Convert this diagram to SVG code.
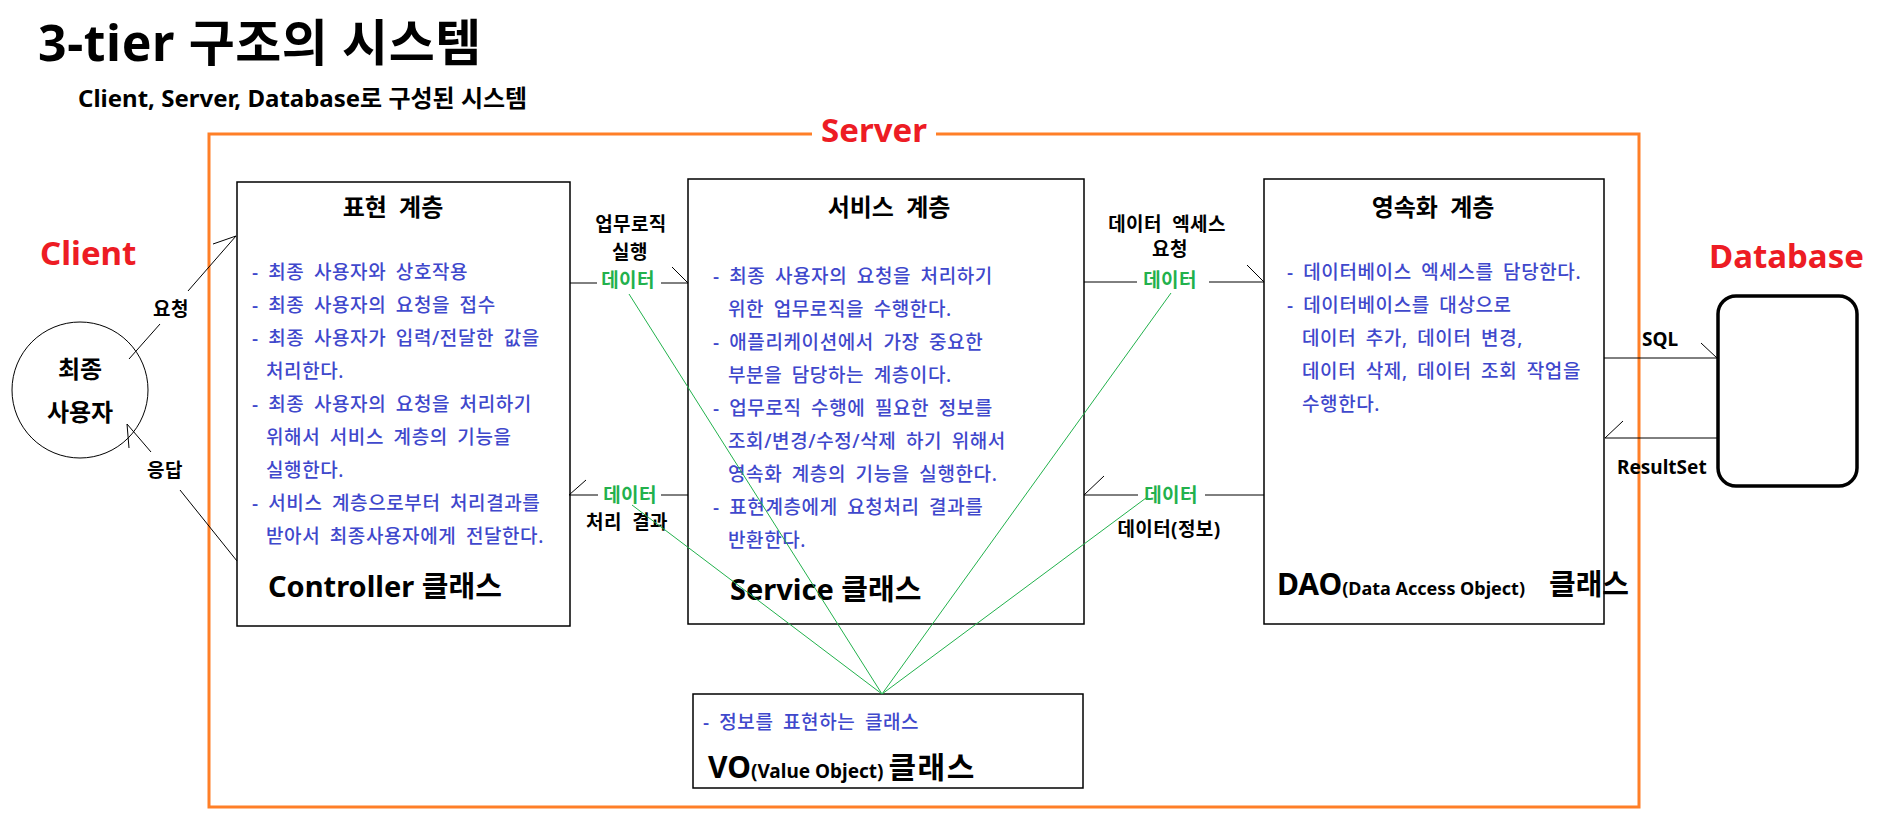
<svg xmlns="http://www.w3.org/2000/svg" width="1887" height="825" viewBox="0 0 1887 825">
<style>
text{font-family:"Noto Sans","Noto Sans CJK KR",sans-serif}
.h1{font-size:50px;font-weight:700;fill:#000;letter-spacing:0.6px}
.h2{font-size:24px;font-weight:700;fill:#000}
.red{font-size:33px;font-weight:700;fill:#ED1C24}
.box{fill:#fff;stroke:#000;stroke-width:1.5}
.lt{font-size:24px;font-weight:700;fill:#000;word-spacing:6px}
.bl{font-size:19px;font-weight:500;fill:#3F48CC;word-spacing:4px;letter-spacing:0.6px}
.lb{font-size:19px;font-weight:700;fill:#000;word-spacing:5px;letter-spacing:0.4px}
.gr{font-size:19px;font-weight:700;fill:#22B14C;letter-spacing:0.4px}
.cls{font-size:29px;font-weight:700;fill:#000}
.big{font-size:30px;font-weight:700;fill:#000}
.sm{font-size:19px;font-weight:700;fill:#000}
.con{fill:none;stroke:#000;stroke-width:1}
.gl{fill:none;stroke:#22B14C;stroke-width:1}
</style>
<rect width="1887" height="825" fill="#fff"/>
<text class="h1" x="38" y="61">3-tier 구조의 시스템</text>
<text class="h2" x="78" y="107">Client, Server, Database로 구성된 시스템</text>

<g id="server">
<path d="M812,134 H209 V807 H1639 V134 H936" fill="none" stroke="#FF7F27" stroke-width="3"/>
<text class="red" x="874" y="142" text-anchor="middle">Server</text>
</g>
<text class="red" x="40" y="265">Client</text>
<text class="red" x="1709" y="268">Database</text>

<g id="user">
<circle cx="80" cy="390" r="68" fill="#fff" stroke="#000" stroke-width="1"/>
<text x="80" y="378" text-anchor="middle" font-size="24" font-weight="700">최종</text>
<text x="80" y="421" text-anchor="middle" font-size="24" font-weight="700">사용자</text>
</g>

<g id="controller">
<rect class="box" x="237" y="182" width="333" height="444"/>
<text class="lt" x="393" y="216" text-anchor="middle">표현 계층</text>
<text class="bl" x="252" y="279">- 최종 사용자와 상호작용</text>
<text class="bl" x="252" y="312">- 최종 사용자의 요청을 접수</text>
<text class="bl" x="252" y="345">- 최종 사용자가 입력/전달한 값을</text>
<text class="bl" x="266" y="378">처리한다.</text>
<text class="bl" x="252" y="411">- 최종 사용자의 요청을 처리하기</text>
<text class="bl" x="266" y="444">위해서 서비스 계층의 기능을</text>
<text class="bl" x="266" y="477">실행한다.</text>
<text class="bl" x="252" y="510">- 서비스 계층으로부터 처리결과를</text>
<text class="bl" x="266" y="543">받아서 최종사용자에게 전달한다.</text>
<text class="cls" x="268" y="597">Controller 클래스</text>
</g>

<g id="service">
<rect class="box" x="688" y="179" width="396" height="445"/>
<text class="lt" x="889" y="216" text-anchor="middle">서비스 계층</text>
<text class="bl" x="713" y="283">- 최종 사용자의 요청을 처리하기</text>
<text class="bl" x="728" y="316">위한 업무로직을 수행한다.</text>
<text class="bl" x="713" y="349">- 애플리케이션에서 가장 중요한</text>
<text class="bl" x="728" y="382">부분을 담당하는 계층이다.</text>
<text class="bl" x="713" y="415">- 업무로직 수행에 필요한 정보를</text>
<text class="bl" x="728" y="448">조회/변경/수정/삭제 하기 위해서</text>
<text class="bl" x="728" y="481">영속화 계층의 기능을 실행한다.</text>
<text class="bl" x="713" y="514">- 표현계층에게 요청처리 결과를</text>
<text class="bl" x="728" y="547">반환한다.</text>
<text class="cls" x="730" y="600">Service 클래스</text>
</g>

<g id="dao">
<rect class="box" x="1264" y="179" width="340" height="445"/>
<text class="lt" x="1433" y="216" text-anchor="middle">영속화 계층</text>
<text class="bl" x="1287" y="279">- 데이터베이스 엑세스를 담당한다.</text>
<text class="bl" x="1287" y="312">- 데이터베이스를 대상으로</text>
<text class="bl" x="1302" y="345">데이터 추가, 데이터 변경,</text>
<text class="bl" x="1302" y="378">데이터 삭제, 데이터 조회 작업을</text>
<text class="bl" x="1302" y="411">수행한다.</text>
<text x="1277" y="595"><tspan class="big">DAO</tspan><tspan font-size="18" font-weight="700">(Data Access Object)</tspan><tspan class="cls" x="1549">클래스</tspan></text>
</g>

<g id="database">
<rect x="1718" y="296" width="139" height="190" rx="18" fill="#fff" stroke="#000" stroke-width="3.5"/>
</g>

<g id="vo">
<rect class="box" x="693" y="694" width="390" height="94"/>
<text class="bl" x="703" y="729">- 정보를 표현하는 클래스</text>
<text x="708" y="778"><tspan class="big">VO</tspan><tspan class="sm">(Value Object) </tspan><tspan class="big" font-size="33" letter-spacing="1.5">클래스</tspan></text>
</g>

<g id="connectors">
<path class="con" d="M129,359 L160,324 M188,291 L236,236 M236,236 L213,244"/>
<text class="lb" x="171" y="316" text-anchor="middle">요청</text>
<path class="con" d="M237,561 L180,490 M151,452 L127,424 M127,424 L129,448"/>
<text class="lb" x="165" y="477" text-anchor="middle">응답</text>

<path class="con" d="M570,283 H597 M661,283 H688 M688,283 L672,267"/>
<text class="lb" x="631" y="231" text-anchor="middle">업무로직</text>
<text class="lb" x="630" y="259" text-anchor="middle">실행</text>
<text class="gr" x="628" y="287" text-anchor="middle">데이터</text>

<path class="con" d="M688,495 H661 M598,495 H569 M569,495 L586,480"/>
<text class="gr" x="630" y="502" text-anchor="middle">데이터</text>
<text class="lb" x="627" y="529" text-anchor="middle">처리 결과</text>

<path class="con" d="M1084,282 H1137 M1209,282 H1264 M1264,282 L1247,265"/>
<text class="lb" x="1167" y="231" text-anchor="middle">데이터 엑세스</text>
<text class="lb" x="1170" y="256" text-anchor="middle">요청</text>
<text class="gr" x="1170" y="287" text-anchor="middle">데이터</text>

<path class="con" d="M1264,495 H1205 M1138,495 H1084 M1084,495 L1104,476"/>
<text class="gr" x="1171" y="502" text-anchor="middle">데이터</text>
<text class="lb" x="1169" y="536" text-anchor="middle">데이터(정보)</text>

<path class="con" d="M1604,358 H1717 M1717,358 L1701,343"/>
<text class="sm" x="1660" y="346" text-anchor="middle">SQL</text>
<path class="con" d="M1717,438 H1605 M1605,438 L1623,421"/>
<text class="sm" x="1617" y="474" font-size="18">ResultSet</text>

<path class="gl" d="M629,294 L882,694 M632,505 L882,694 M1171,293 L882,694 M1146,498 L882,694"/>
</g>
</svg>
